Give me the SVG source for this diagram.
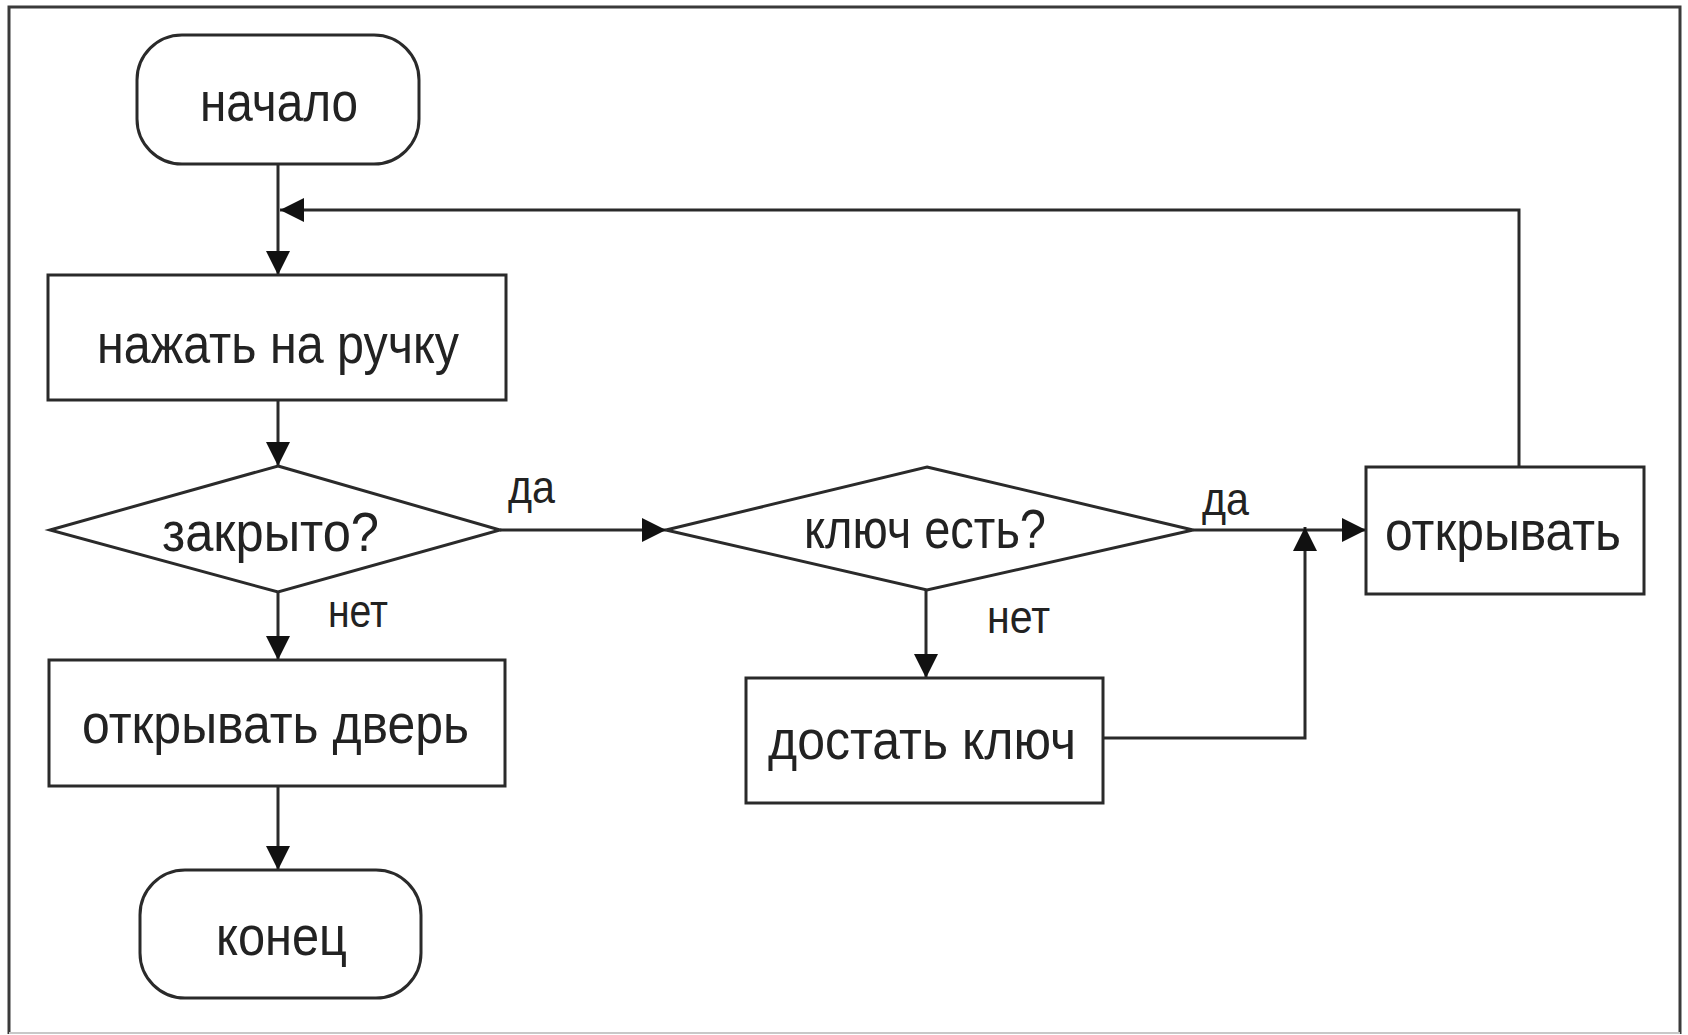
<svg xmlns="http://www.w3.org/2000/svg" width="1688" height="1035" viewBox="0 0 1688 1035">
<style>
  .shape { fill: #ffffff; stroke: #2a2a2a; stroke-width: 3; }
  .conn { fill: none; stroke: #2a2a2a; stroke-width: 3; }
  .t { font-family: "Liberation Sans", Arial, sans-serif; font-size: 56px; fill: #222222; }
  .lbl { font-family: "Liberation Sans", Arial, sans-serif; font-size: 46px; fill: #222222; }
</style>
<defs>
  <marker id="arr" viewBox="0 0 24 24" markerUnits="userSpaceOnUse" markerWidth="24" markerHeight="24" refX="24" refY="12" orient="auto">
    <path d="M0,0 L24,12 L0,24 z" fill="#111111"/>
  </marker>
</defs>
<rect x="0" y="0" width="1688" height="1035" fill="#ffffff"/>
<path d="M9,1034 V7 H1680 V1034" fill="none" stroke="#3a3a3a" stroke-width="3"/>
<line x1="9" y1="1033" x2="1680" y2="1033" stroke="#c8c8c8" stroke-width="2"/>

<g id="connectors">
  <path class="conn" d="M278,164 V275" marker-end="url(#arr)"/>
  <path class="conn" d="M1519,467 V210 H280" marker-end="url(#arr)"/>
  <path class="conn" d="M278,400 V466" marker-end="url(#arr)"/>
  <path class="conn" d="M278,592 V660" marker-end="url(#arr)"/>
  <path class="conn" d="M278,786 V870" marker-end="url(#arr)"/>
  <path class="conn" d="M500,530 H666" marker-end="url(#arr)"/>
  <path class="conn" d="M926,590 V678" marker-end="url(#arr)"/>
  <path class="conn" d="M1193,530 H1366" marker-end="url(#arr)"/>
  <path class="conn" d="M1103,738 H1305 V527" marker-end="url(#arr)"/>
  <text class="lbl" x="508" y="503" textLength="47" lengthAdjust="spacingAndGlyphs">да</text>
  <text class="lbl" x="328" y="627" textLength="60" lengthAdjust="spacingAndGlyphs">нет</text>
  <text class="lbl" x="1202" y="515" textLength="47" lengthAdjust="spacingAndGlyphs">да</text>
  <text class="lbl" x="987" y="633" textLength="63" lengthAdjust="spacingAndGlyphs">нет</text>
</g>

<g id="start">
  <rect class="shape" x="137" y="35" width="282" height="129" rx="45" ry="45"/>
  <text class="t" x="200" y="121" textLength="158" lengthAdjust="spacingAndGlyphs">начало</text>
</g>
<g id="press">
  <rect class="shape" x="48" y="275" width="458" height="125"/>
  <text class="t" x="97" y="363" textLength="362" lengthAdjust="spacingAndGlyphs">нажать на ручку</text>
</g>
<g id="closed">
  <polygon class="shape" points="278,466 500,530 278,592 50,530"/>
  <text class="t" x="162" y="551" textLength="217" lengthAdjust="spacingAndGlyphs">закрыто?</text>
</g>
<g id="opendoor">
  <rect class="shape" x="49" y="660" width="456" height="126"/>
  <text class="t" x="82" y="743" textLength="387" lengthAdjust="spacingAndGlyphs">открывать дверь</text>
</g>
<g id="end">
  <rect class="shape" x="140" y="870" width="281" height="128" rx="45" ry="45"/>
  <text class="t" x="216" y="955" textLength="131" lengthAdjust="spacingAndGlyphs">конец</text>
</g>
<g id="haskey">
  <polygon class="shape" points="927,467 1193,530 927,590 666,530"/>
  <text class="t" x="804" y="548" textLength="242" lengthAdjust="spacingAndGlyphs">ключ есть?</text>
</g>
<g id="getkey">
  <rect class="shape" x="746" y="678" width="357" height="125"/>
  <text class="t" x="768" y="759" textLength="308" lengthAdjust="spacingAndGlyphs">достать ключ</text>
</g>
<g id="open">
  <rect class="shape" x="1366" y="467" width="278" height="127"/>
  <text class="t" x="1385" y="550" textLength="236" lengthAdjust="spacingAndGlyphs">открывать</text>
</g>
</svg>
